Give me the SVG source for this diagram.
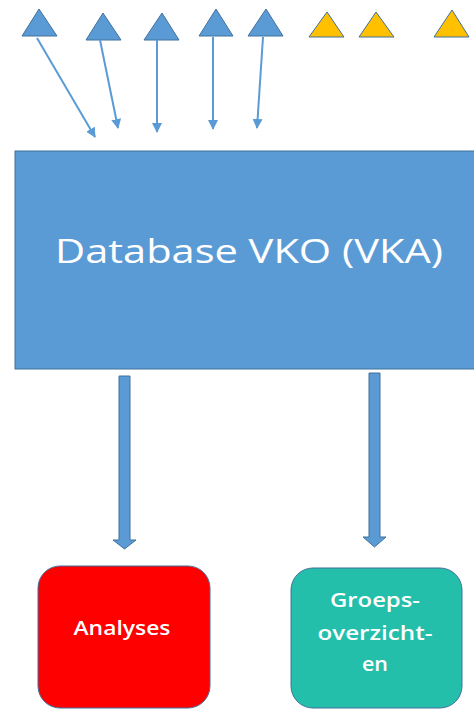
<svg xmlns="http://www.w3.org/2000/svg" width="474" height="709" viewBox="0 0 474 709">
<defs>
<style>
.tb{fill:#5B9BD5;stroke:#41719C;stroke-width:1}
.ty{fill:#FFC000;stroke:#41719C;stroke-width:1}
.ln{stroke:#5B9BD5;stroke-width:2;fill:none;marker-end:url(#ah)}
.blk{fill:#5B9BD5;stroke:#41719C;stroke-width:1}
.lbl{font-family:"Open Sans","Noto Sans",sans-serif;fill:#fff;text-anchor:middle}
.sm{font-size:19px;font-weight:600}
</style>
<marker id="ah" viewBox="0 0 10 10" refX="9" refY="5" markerWidth="5" markerHeight="5" orient="auto" markerUnits="strokeWidth">
<path d="M0,0 L10,5 L0,10 z" fill="#5B9BD5"/>
</marker>
</defs>
<g id="tri1"><polygon class="tb" points="22,36 57,36 39,9"/></g>
<g id="tri2"><polygon class="tb" points="86,40 121,40 103,13"/></g>
<g id="tri3"><polygon class="tb" points="144,40 179,40 162,13"/></g>
<g id="tri4"><polygon class="tb" points="199,36 233,36 216,9"/></g>
<g id="tri5"><polygon class="tb" points="248,36 283,36 266,9"/></g>
<g id="tri6"><polygon class="ty" points="309,37 344,37 327,12"/></g>
<g id="tri7"><polygon class="ty" points="359,37 394,37 376,12"/></g>
<g id="tri8"><polygon class="ty" points="434,37 469,37 452,10"/></g>
<g id="db">
<rect class="blk" x="15" y="151" width="470" height="218"/>
<text class="lbl" x="249" y="263" font-size="33" textLength="388" lengthAdjust="spacingAndGlyphs">Database VKO (VKA)</text>
</g>
<g id="analyses">
<rect x="38" y="566" width="172" height="142" rx="22" fill="#FF0000" stroke="#41719C" stroke-width="1"/>
<text class="lbl sm" x="122" y="635" textLength="97" lengthAdjust="spacingAndGlyphs">Analyses</text>
</g>
<g id="groeps">
<rect x="291" y="568" width="171" height="140" rx="22" fill="#24BFAA" stroke="#41719C" stroke-width="1"/>
<text class="lbl sm" x="375" y="607" textLength="90" lengthAdjust="spacingAndGlyphs">Groeps-</text>
<text class="lbl sm" x="375" y="640" textLength="115" lengthAdjust="spacingAndGlyphs">overzicht-</text>
<text class="lbl sm" x="375" y="671" textLength="26" lengthAdjust="spacingAndGlyphs">en</text>
</g>
<g id="connectors">
<line class="ln" x1="37" y1="38" x2="95" y2="137"/>
<line class="ln" x1="100" y1="40" x2="118" y2="128"/>
<line class="ln" x1="157" y1="40" x2="157" y2="132"/>
<line class="ln" x1="213" y1="37" x2="213" y2="129"/>
<line class="ln" x1="263" y1="37" x2="257" y2="128"/>
<polygon class="blk" points="119,376 130,376 130,540 136,540 124.5,549 113,540 119,540"/>
<polygon class="blk" points="369,373 380,373 380,537 386,537 374.5,547 363,537 369,537"/>
</g>
</svg>
